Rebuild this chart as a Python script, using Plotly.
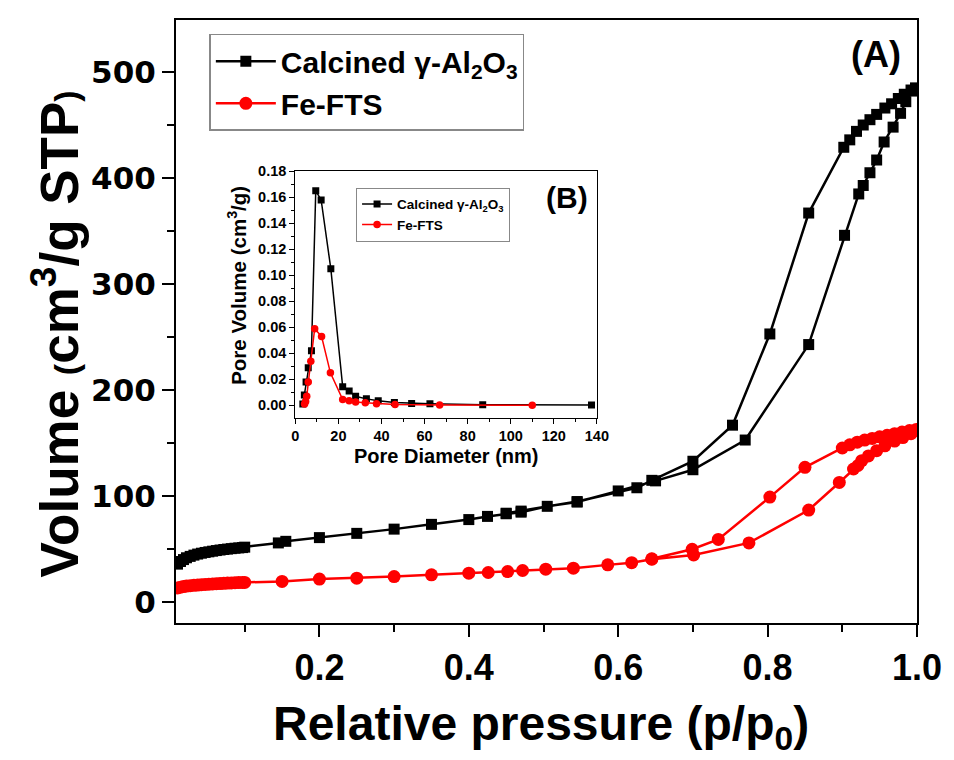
import plotly.graph_objects as go

# ---------------- main isotherm data ----------------
al_ads_p = [0.010,0.014,0.018,0.022,0.027,0.032,0.037,0.042,0.047,0.052,0.057,0.062,0.067,0.072,0.077,0.082,0.087,0.092,0.097,0.100,
            0.145,0.155,0.200,0.250,0.300,0.350,0.400,0.425,0.450,0.470,0.505,0.545,0.600,0.650,0.700,0.770,0.855,0.903,0.922,0.928,
            0.937,0.946,0.956,0.968,0.978,0.985,0.993,0.998]
al_ads_v = [36,38.5,40.3,42,43.3,44.5,45.5,46.3,47,47.6,48.2,48.8,49.3,49.8,50.2,50.6,51,51.3,51.6,52,
            56,57.5,61,65,69,73.5,78,81,83.5,85,90.5,94.5,105,114.5,125,153,243,346,385,393,
            405,417,434,448,461,472,482,485]
al_des_p = [0.992,0.983,0.975,0.966,0.957,0.946,0.937,0.928,0.919,0.910,0.902,0.855,0.803,0.753,0.700,0.645,0.625,0.545,0.470,0.450]
al_des_v = [483,479,475,470,466,460,455,450,444,436,429,367,253,167,133,115,108,95,86,84]

fe_ads_p = [0.010,0.014,0.018,0.022,0.027,0.032,0.037,0.042,0.047,0.052,0.057,0.062,0.067,0.072,0.077,0.082,0.087,0.092,0.097,0.100,
            0.150,0.200,0.250,0.300,0.350,0.400,0.426,0.452,0.472,0.503,0.540,0.586,0.618,0.645,0.701,0.775,0.855,0.896,0.915,0.921,
            0.926,0.935,0.946,0.957,0.970,0.981,0.992,0.999]
fe_ads_v = [13.5,14.2,14.8,15.3,15.7,16.0,16.3,16.6,16.9,17.1,17.3,17.5,17.7,17.9,18.1,18.3,18.5,18.6,18.7,18.8,
            19.7,21.9,22.8,24.3,25.9,27.5,28.1,29,30,31.2,32.2,35.3,37.4,40.6,44.6,56,87,113,125.7,129,
            133.5,138,143,147.5,152,155.3,159,163]
fe_des_p = [0.990,0.980,0.970,0.960,0.950,0.940,0.930,0.920,0.910,0.900,0.850,0.803,0.734,0.699,0.645]
fe_des_v = [162,160.5,159,157.5,156,154.5,153,151,148.5,145.5,127.3,99.2,59.3,50,41]

# ---------------- inset pore size distribution ----------------
al_d = [3.5,4.2,5.0,6.0,7.5,9.5,12.0,16.5,22.0,25.0,28.0,33.0,38.5,46.0,54.0,62.5,87.0,137.5]
al_pv = [0.001,0.008,0.018,0.029,0.042,0.165,0.158,0.105,0.0143,0.011,0.007,0.005,0.0035,0.0022,0.0015,0.0013,0.0005,0.0002]
fe_d = [4.3,4.8,5.3,6.0,7.2,9.0,12.2,16.3,22.0,25.0,28.0,32.5,37.7,46.3,67.0,110.0]
fe_pv = [0.001,0.003,0.007,0.018,0.034,0.059,0.053,0.025,0.0045,0.0035,0.0025,0.002,0.0013,0.0006,0.0002,0.0]

main_xticks = [0.2, 0.4, 0.6, 0.8, 1.0]
main_yticks = [0, 100, 200, 300, 400, 500]
inset_xticks = [0, 20, 40, 60, 80, 100, 120, 140]
inset_yticks = [0, 0.02, 0.04, 0.06, 0.08, 0.10, 0.12, 0.14, 0.16, 0.18]

name_al = "<b>Calcined γ-Al<sub>2</sub>O<sub>3</sub></b>"
name_fe = "<b>Fe-FTS</b>"

BLACK = "#000000"
RED = "#ff0000"
FONT = "Liberation Sans, Arial, sans-serif"

fig = go.Figure()

fig.add_trace(go.Scatter(x=al_ads_p + al_des_p, y=al_ads_v + al_des_v, mode="lines+markers", name=name_al,
                         line=dict(color=BLACK, width=2.5), marker=dict(symbol="square", size=11, color=BLACK),
                         legend="legend"))
fig.add_trace(go.Scatter(x=fe_ads_p + fe_des_p, y=fe_ads_v + fe_des_v, mode="lines+markers", name=name_fe,
                         line=dict(color=RED, width=2.5), marker=dict(symbol="circle", size=13, color=RED),
                         legend="legend"))

fig.add_trace(go.Scatter(x=al_d, y=al_pv, mode="lines+markers", name=name_al, xaxis="x2", yaxis="y2",
                         line=dict(color=BLACK, width=1.5), marker=dict(symbol="square", size=7, color=BLACK),
                         legend="legend2"))
fig.add_trace(go.Scatter(x=fe_d, y=fe_pv, mode="lines+markers", name=name_fe, xaxis="x2", yaxis="y2",
                         line=dict(color=RED, width=1.5), marker=dict(symbol="circle", size=7.5, color=RED),
                         legend="legend2"))

axis_common = dict(showgrid=False, zeroline=False, showline=True, linecolor=BLACK, mirror=True, ticks="outside",
                   tickcolor=BLACK)

fig.update_layout(
    width=954, height=760,
    margin=dict(l=176, r=28, t=16, b=137),
    paper_bgcolor="white", plot_bgcolor="white",
    font=dict(family=FONT, color=BLACK),
    xaxis=dict(**axis_common, domain=[0, 1], range=[0.008, 1.0], tickvals=main_xticks,
               ticktext=["<b>%.1f</b>" % v for v in main_xticks],
               linewidth=2, ticklen=12, tickwidth=2, tickfont=dict(size=36, family=FONT),
               minor=dict(dtick=0.1, tick0=0, ticks="outside", ticklen=7, tickwidth=2, tickcolor=BLACK)),
    yaxis=dict(**axis_common, domain=[0, 1], range=[-19.5, 549], tickvals=main_yticks,
               ticktext=["<b>%d</b>" % v for v in main_yticks],
               linewidth=2, ticklen=12, tickwidth=2, tickfont=dict(size=31, family="DejaVu Sans"),
               minor=dict(dtick=50, tick0=0, ticks="outside", ticklen=7, tickwidth=2, tickcolor=BLACK)),
    xaxis2=dict(**axis_common, anchor="y2", domain=[0.161, 0.568], range=[0, 140],
                tickvals=inset_xticks,
                ticktext=["<b>%d</b>" % v for v in inset_xticks],
                linewidth=1.2, ticklen=5, tickwidth=1.2, tickfont=dict(size=14.5, family=FONT),
                minor=dict(dtick=10, tick0=0, ticks="outside", ticklen=3, tickwidth=1.2, tickcolor=BLACK)),
    yaxis2=dict(**axis_common, anchor="x2", domain=[0.340, 0.749], range=[-0.0097, 0.18],
                tickvals=inset_yticks,
                ticktext=["<b>%.2f</b>" % v for v in inset_yticks],
                linewidth=1.2, ticklen=5, tickwidth=1.2, tickfont=dict(size=14.5, family=FONT),
                minor=dict(dtick=0.01, tick0=0, ticks="outside", ticklen=3, tickwidth=1.2, tickcolor=BLACK)),
    legend=dict(x=0.045, y=0.977, xanchor="left", yanchor="top", bgcolor="white",
                bordercolor="#888888", borderwidth=1.5, font=dict(size=30, family=FONT),
                itemwidth=60, tracegroupgap=0),
    legend2=dict(x=0.243, y=0.722, xanchor="left", yanchor="top", bgcolor="white",
                 bordercolor="#888888", borderwidth=1, font=dict(size=13.5, family=FONT),
                 itemwidth=30, tracegroupgap=0),
    showlegend=True,
)

ann = [
    dict(text="<b>Relative pressure (p/p<sub>0</sub>)</b>", x=0.493, y=-0.172, size=48),
    dict(text="<b>Volume <span style='font-size:34px'>(</span>cm<sup>3</sup>/g STP<span style='font-size:34px'>)</span></b>",
         x=-0.163, y=0.479, textangle=-90, size=53),
    dict(text="<b>Pore Diameter (nm)</b>", x=0.365, y=0.277, size=20),
    dict(text="<b>Pore Volume (cm<sup>3</sup>/g)</b>", x=0.083, y=0.560, textangle=-90, size=20.5),
    dict(text="<b>(A)</b>", x=0.945, y=0.942, size=36),
    dict(text="<b>(B)</b>", x=0.527, y=0.705, size=30),
]
for a in ann:
    size = a.pop("size")
    fig.add_annotation(xref="paper", yref="paper", showarrow=False, xanchor="center", yanchor="middle",
                       font=dict(family=FONT, color=BLACK, size=size), **a)

fig.write_html("out.html")
